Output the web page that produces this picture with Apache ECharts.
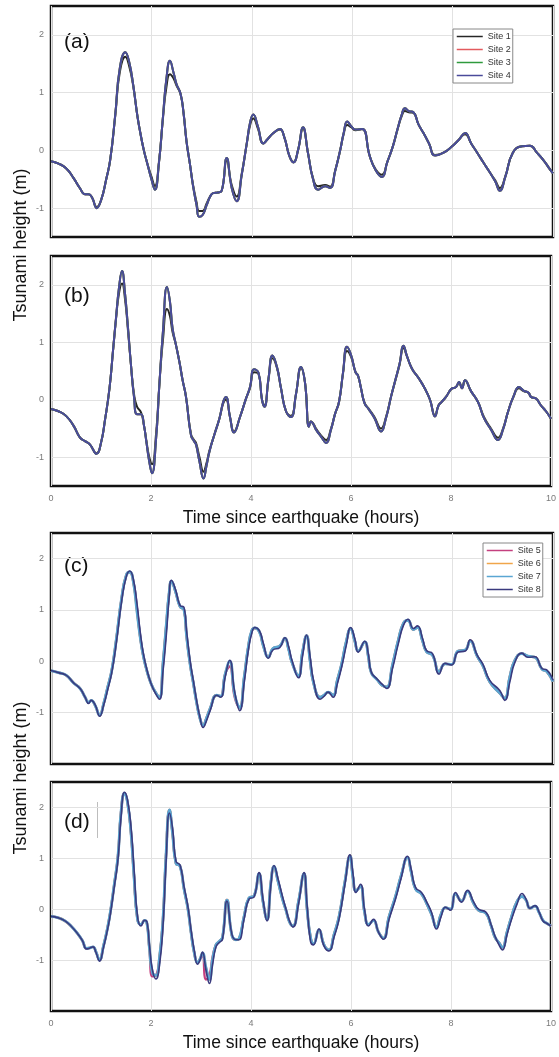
<!DOCTYPE html>
<html><head><meta charset="utf-8">
<script src="https://cdn.jsdelivr.net/npm/echarts@6/dist/echarts.min.js"></script>
<style>html,body{margin:0;padding:0;background:#fff}#chart{width:559px;height:1057px}</style>
</head><body><div id="chart"></div>
<script>
// ---------- data ----------
const timeA = [0,0.15,0.3,0.45,0.58,0.68,0.75,0.82,0.91,1.0,1.1,1.18,1.28,1.37,1.48,1.56,1.64,1.72,1.78,1.85,1.91,2.0,2.07,2.15,2.23,2.3,2.37,2.44,2.5,2.58,2.64,2.7,2.77,2.83,2.9,2.95,3.02,3.1,3.17,3.23,3.32,3.4,3.5,3.6,3.7,3.8,3.9,3.97,4.03,4.12,4.23,4.3,4.43,4.56,4.65,4.75,4.83,4.92,5.02,5.12,5.22,5.32,5.46,5.56,5.66,5.76,5.83,5.9,5.98,6.06,6.2,6.35,6.47,6.59,6.7,6.81,6.9,6.99,7.05,7.13,7.22,7.32,7.42,7.53,7.65,7.82,7.99,8.12,8.25,8.37,8.49,8.62,8.74,8.85,8.94,9.05,9.2,9.38,9.54,9.68,9.82,9.94,10];
const site1A = [-0.19,-0.23,-0.31,-0.48,-0.66,-0.76,-0.76,-0.82,-0.98,-0.85,
-0.5,-0.16,0.6,1.35,1.62,1.45,1.1,0.6,0.3,0.0,
-0.2,-0.45,-0.62,-0.2,0.55,1.1,1.32,1.25,1.12,0.98,
0.65,0.15,-0.25,-0.6,-0.9,-1.05,-1.05,-0.92,-0.8,-0.74,
-0.73,-0.7,-0.18,-0.6,-0.8,-0.4,0.12,0.45,0.55,0.38,
0.12,0.18,0.3,0.36,0.22,-0.1,-0.2,0.0,0.38,-0.05,
-0.48,-0.62,-0.6,-0.63,-0.35,0.0,0.28,0.44,0.4,0.35,
0.37,-0.1,-0.33,-0.42,-0.2,0.07,0.35,0.6,0.68,0.66,
0.65,0.45,0.3,0.12,-0.08,-0.04,0.07,0.18,0.28,0.12,
-0.04,-0.22,-0.38,-0.52,-0.65,-0.45,-0.04,0.07,0.08,-0.04,
-0.18,-0.33,-0.4];
const site2A = [-0.19,-0.23,-0.31,-0.48,-0.66,-0.76,-0.76,-0.82,-1.0,-0.86,
-0.5,-0.16,0.62,1.42,1.70,1.52,1.12,0.6,0.3,0.0,
-0.2,-0.5,-0.68,-0.22,0.58,1.25,1.55,1.35,1.15,0.98,
0.65,0.15,-0.25,-0.62,-0.95,-1.15,-1.12,-0.95,-0.8,-0.74,
-0.73,-0.7,-0.13,-0.65,-0.88,-0.42,0.12,0.5,0.62,0.42,
0.12,0.18,0.3,0.37,0.22,-0.1,-0.21,0.0,0.4,-0.05,
-0.5,-0.68,-0.62,-0.65,-0.36,0.0,0.3,0.5,0.42,0.36,
0.37,-0.1,-0.35,-0.46,-0.2,0.07,0.36,0.63,0.73,0.68,
0.66,0.45,0.3,0.12,-0.09,-0.04,0.07,0.18,0.3,0.12,
-0.04,-0.22,-0.38,-0.54,-0.7,-0.46,-0.04,0.07,0.08,-0.04,
-0.18,-0.33,-0.4];
const site3A = [-0.19,-0.23,-0.31,-0.48,-0.66,-0.76,-0.76,-0.82,-1.0,-0.86,
-0.5,-0.16,0.62,1.42,1.70,1.52,1.12,0.6,0.3,0.0,
-0.2,-0.5,-0.68,-0.22,0.58,1.25,1.55,1.35,1.15,0.98,
0.65,0.15,-0.25,-0.62,-0.95,-1.15,-1.12,-0.95,-0.8,-0.74,
-0.73,-0.7,-0.13,-0.65,-0.88,-0.42,0.12,0.5,0.62,0.42,
0.12,0.18,0.3,0.37,0.22,-0.1,-0.21,0.0,0.4,-0.05,
-0.5,-0.68,-0.62,-0.65,-0.36,0.0,0.3,0.5,0.42,0.36,
0.37,-0.1,-0.35,-0.46,-0.2,0.07,0.36,0.63,0.73,0.68,
0.66,0.45,0.3,0.12,-0.09,-0.04,0.07,0.18,0.3,0.12,
-0.04,-0.22,-0.38,-0.54,-0.7,-0.46,-0.04,0.07,0.08,-0.04,
-0.18,-0.33,-0.4];
const site4A = [-0.19,-0.23,-0.31,-0.48,-0.66,-0.76,-0.76,-0.82,-1.0,-0.86,
-0.5,-0.16,0.62,1.42,1.70,1.52,1.12,0.6,0.3,0.0,
-0.2,-0.5,-0.68,-0.22,0.58,1.25,1.55,1.35,1.15,0.98,
0.65,0.15,-0.25,-0.62,-0.95,-1.15,-1.12,-0.95,-0.8,-0.74,
-0.73,-0.7,-0.13,-0.65,-0.88,-0.42,0.12,0.5,0.62,0.42,
0.12,0.18,0.3,0.37,0.22,-0.1,-0.21,0.0,0.4,-0.05,
-0.5,-0.68,-0.62,-0.65,-0.36,0.0,0.3,0.5,0.42,0.36,
0.37,-0.1,-0.35,-0.46,-0.2,0.07,0.36,0.63,0.73,0.68,
0.66,0.45,0.3,0.12,-0.09,-0.04,0.07,0.18,0.3,0.12,
-0.04,-0.22,-0.38,-0.54,-0.7,-0.46,-0.04,0.07,0.08,-0.04,
-0.18,-0.33,-0.4];

const timeB = [0,0.15,0.3,0.45,0.58,0.68,0.78,0.91,1.0,1.08,1.17,1.24,1.3,1.36,1.42,1.48,1.54,1.6,1.66,1.72,1.8,1.86,1.91,1.96,2.02,2.1,2.17,2.24,2.32,2.38,2.43,2.5,2.57,2.63,2.7,2.8,2.86,2.9,2.97,3.05,3.11,3.17,3.27,3.37,3.45,3.5,3.58,3.66,3.78,3.9,3.98,4.06,4.15,4.22,4.27,4.35,4.43,4.52,4.6,4.7,4.8,4.9,5.0,5.08,5.16,5.2,5.25,5.3,5.4,5.5,5.6,5.68,5.76,5.84,5.92,6.0,6.09,6.14,6.2,6.27,6.35,6.47,6.6,6.7,6.8,6.88,6.97,7.05,7.12,7.22,7.35,7.48,7.58,7.68,7.75,7.81,7.9,8.01,8.1,8.16,8.22,8.28,8.4,8.54,8.66,8.8,8.94,9.04,9.14,9.25,9.36,9.45,9.55,9.6,9.7,9.8,9.9,10];
const site1B = [-0.16,-0.2,-0.28,-0.45,-0.66,-0.72,-0.78,-0.93,-0.75,-0.35,
0.2,0.85,1.4,1.85,2.02,1.75,1.2,0.6,0.1,-0.12,
-0.22,-0.45,-0.72,-0.98,-1.12,-0.6,0.3,1.05,1.58,1.45,
1.18,0.95,0.65,0.35,0.05,-0.6,-0.7,-0.75,-1.0,-1.25,
-1.1,-0.88,-0.6,-0.32,-0.05,0.0,-0.3,-0.55,-0.3,0.02,
0.2,0.48,0.45,0.0,-0.1,0.35,0.72,0.55,0.2,-0.2,
-0.28,0.1,0.55,0.3,-0.45,-0.38,-0.42,-0.5,-0.62,-0.7,
-0.5,-0.25,-0.04,0.45,0.85,0.75,0.48,0.42,0.2,-0.05,
-0.15,-0.3,-0.5,-0.3,0.05,0.31,0.6,0.9,0.75,0.54,
0.38,0.19,0.0,-0.27,-0.1,-0.04,0.05,0.19,0.22,0.3,
0.2,0.33,0.15,-0.04,-0.3,-0.5,-0.66,-0.5,-0.21,0.05,
0.2,0.15,0.12,0.05,0.02,-0.1,-0.2,-0.33];
const site2B = [-0.16,-0.2,-0.28,-0.45,-0.66,-0.72,-0.78,-0.94,-0.75,-0.35,
0.2,0.85,1.42,1.95,2.24,1.85,1.25,0.6,0.05,-0.25,
-0.25,-0.45,-0.75,-1.05,-1.28,-0.7,0.3,1.2,1.96,1.7,
1.25,0.95,0.65,0.35,0.05,-0.62,-0.72,-0.78,-1.08,-1.37,
-1.15,-0.9,-0.6,-0.32,-0.02,0.05,-0.3,-0.57,-0.3,0.02,
0.22,0.53,0.47,0.0,-0.12,0.37,0.77,0.57,0.2,-0.2,
-0.3,0.1,0.57,0.3,-0.47,-0.38,-0.43,-0.52,-0.64,-0.75,
-0.52,-0.25,-0.04,0.47,0.92,0.78,0.48,0.42,0.2,-0.06,
-0.16,-0.32,-0.55,-0.32,0.05,0.32,0.62,0.94,0.76,0.54,
0.38,0.19,0.0,-0.29,-0.1,-0.04,0.05,0.19,0.22,0.31,
0.2,0.34,0.15,-0.04,-0.32,-0.52,-0.7,-0.52,-0.21,0.06,
0.22,0.16,0.12,0.05,0.02,-0.1,-0.2,-0.33];
const site3B = [-0.16,-0.2,-0.28,-0.45,-0.66,-0.72,-0.78,-0.94,-0.75,-0.35,
0.2,0.85,1.42,1.95,2.24,1.85,1.25,0.6,0.05,-0.25,
-0.25,-0.45,-0.75,-1.05,-1.28,-0.7,0.3,1.2,1.96,1.7,
1.25,0.95,0.65,0.35,0.05,-0.62,-0.72,-0.78,-1.08,-1.37,
-1.15,-0.9,-0.6,-0.32,-0.02,0.05,-0.3,-0.57,-0.3,0.02,
0.22,0.53,0.47,0.0,-0.12,0.37,0.77,0.57,0.2,-0.2,
-0.3,0.1,0.57,0.3,-0.47,-0.38,-0.43,-0.52,-0.64,-0.75,
-0.52,-0.25,-0.04,0.47,0.92,0.78,0.48,0.42,0.2,-0.06,
-0.16,-0.32,-0.55,-0.32,0.05,0.32,0.62,0.94,0.76,0.54,
0.38,0.19,0.0,-0.29,-0.1,-0.04,0.05,0.19,0.22,0.31,
0.2,0.34,0.15,-0.04,-0.32,-0.52,-0.7,-0.52,-0.21,0.06,
0.22,0.16,0.12,0.05,0.02,-0.1,-0.2,-0.33];
const site4B = [-0.16,-0.2,-0.28,-0.45,-0.66,-0.72,-0.78,-0.94,-0.75,-0.35,
0.2,0.85,1.42,1.95,2.24,1.85,1.25,0.6,0.05,-0.25,
-0.25,-0.45,-0.75,-1.05,-1.28,-0.7,0.3,1.2,1.96,1.7,
1.25,0.95,0.65,0.35,0.05,-0.62,-0.72,-0.78,-1.08,-1.37,
-1.15,-0.9,-0.6,-0.32,-0.02,0.05,-0.3,-0.57,-0.3,0.02,
0.22,0.53,0.47,0.0,-0.12,0.37,0.77,0.57,0.2,-0.2,
-0.3,0.1,0.57,0.3,-0.47,-0.38,-0.43,-0.52,-0.64,-0.75,
-0.52,-0.25,-0.04,0.47,0.92,0.78,0.48,0.42,0.2,-0.06,
-0.16,-0.32,-0.55,-0.32,0.05,0.32,0.62,0.94,0.76,0.54,
0.38,0.19,0.0,-0.29,-0.1,-0.04,0.05,0.19,0.22,0.31,
0.2,0.34,0.15,-0.04,-0.32,-0.52,-0.7,-0.52,-0.21,0.06,
0.22,0.16,0.12,0.05,0.02,-0.1,-0.2,-0.33];

const timeC = [0,0.15,0.3,0.45,0.58,0.68,0.75,0.8,0.88,0.97,1.05,1.13,1.21,1.3,1.41,1.5,1.57,1.64,1.71,1.78,1.84,1.92,2.0,2.08,2.16,2.23,2.3,2.35,2.4,2.48,2.57,2.65,2.7,2.77,2.84,2.9,2.97,3.03,3.1,3.17,3.3,3.38,3.47,3.56,3.66,3.76,3.85,3.93,4.0,4.06,4.15,4.23,4.33,4.42,4.56,4.66,4.73,4.8,4.93,5.01,5.09,5.16,5.23,5.36,5.44,5.52,5.62,5.7,5.79,5.88,5.97,6.05,6.12,6.25,6.32,6.38,6.5,6.6,6.69,6.8,6.92,7.02,7.11,7.22,7.3,7.4,7.48,7.6,7.73,7.85,7.98,8.11,8.25,8.35,8.49,8.6,8.74,8.94,9.04,9.14,9.24,9.38,9.5,9.64,9.78,9.88,10];
const site5C = [-0.18,-0.22,-0.27,-0.42,-0.53,-0.7,-0.8,-0.76,-0.86,-1.05,
-0.82,-0.5,-0.18,0.42,1.25,1.68,1.74,1.55,1.05,0.45,
0.1,-0.22,-0.45,-0.6,-0.7,-0.05,0.75,1.3,1.56,1.36,
1.07,1.0,0.5,-0.05,-0.45,-0.8,-1.12,-1.25,-1.1,-0.92,
-0.66,-0.68,-0.25,-0.1,-0.7,-0.9,-0.3,0.28,0.6,0.65,
0.58,0.3,0.08,0.25,0.3,0.45,0.25,-0.02,-0.28,0.18,
0.5,0.02,-0.42,-0.7,-0.66,-0.6,-0.66,-0.38,-0.05,0.38,
0.64,0.4,0.2,0.38,0.1,-0.22,-0.36,-0.47,-0.5,-0.08,
0.42,0.74,0.8,0.62,0.66,0.4,0.19,0.12,-0.2,-0.05,
-0.06,0.2,0.22,0.4,0.1,-0.08,-0.4,-0.62,-0.72,-0.3,
0.02,0.15,0.1,0.08,-0.15,-0.2,-0.4];
const site6C = [-0.18,-0.22,-0.27,-0.42,-0.53,-0.7,-0.8,-0.76,-0.86,-1.05,
-0.82,-0.5,-0.18,0.42,1.25,1.68,1.74,1.55,1.0,0.45,
0.1,-0.22,-0.45,-0.6,-0.7,-0.05,0.75,1.3,1.56,1.36,
1.07,1.0,0.5,-0.05,-0.45,-0.8,-1.12,-1.25,-1.1,-0.92,
-0.66,-0.68,-0.25,0.0,-0.65,-0.9,-0.3,0.28,0.6,0.65,
0.58,0.3,0.08,0.25,0.3,0.45,0.25,-0.02,-0.28,0.18,
0.5,0.02,-0.42,-0.7,-0.66,-0.6,-0.66,-0.38,-0.05,0.38,
0.64,0.4,0.2,0.38,0.1,-0.22,-0.36,-0.47,-0.5,-0.08,
0.42,0.74,0.8,0.62,0.66,0.4,0.19,0.12,-0.2,-0.05,
-0.06,0.2,0.22,0.4,0.1,-0.08,-0.4,-0.62,-0.72,-0.3,
0.02,0.15,0.1,0.08,-0.15,-0.2,-0.4];
const site7C = [-0.18,-0.22,-0.27,-0.42,-0.53,-0.7,-0.8,-0.76,-0.86,-1.05,
-0.82,-0.5,-0.18,0.42,1.25,1.68,1.74,1.55,1.0,0.45,
0.1,-0.22,-0.45,-0.6,-0.7,-0.05,0.75,1.3,1.56,1.36,
1.07,1.0,0.5,-0.05,-0.45,-0.8,-1.12,-1.25,-1.1,-0.92,
-0.66,-0.68,-0.25,0.0,-0.65,-0.9,-0.3,0.28,0.6,0.65,
0.58,0.3,0.08,0.25,0.3,0.45,0.25,-0.02,-0.28,0.18,
0.5,0.02,-0.42,-0.7,-0.66,-0.6,-0.66,-0.38,-0.05,0.38,
0.64,0.4,0.2,0.38,0.1,-0.22,-0.36,-0.47,-0.5,-0.08,
0.42,0.74,0.8,0.62,0.66,0.4,0.19,0.12,-0.2,-0.05,
-0.06,0.2,0.22,0.4,0.1,-0.08,-0.4,-0.62,-0.72,-0.3,
0.02,0.15,0.1,0.08,-0.15,-0.2,-0.4];
const site8C = [-0.18,-0.22,-0.27,-0.42,-0.53,-0.7,-0.82,-0.76,-0.85,-1.07,
-0.85,-0.55,-0.22,0.35,1.19,1.65,1.76,1.6,1.15,0.55,
0.15,-0.2,-0.45,-0.62,-0.74,-0.2,0.55,1.2,1.58,1.4,
1.09,1.05,0.6,0.02,-0.4,-0.76,-1.1,-1.29,-1.15,-0.96,
-0.66,-0.7,-0.3,0.02,-0.6,-0.96,-0.4,0.21,0.55,0.66,
0.6,0.35,0.06,0.22,0.27,0.46,0.3,0.02,-0.32,0.1,
0.51,0.1,-0.37,-0.74,-0.68,-0.6,-0.7,-0.45,-0.11,0.3,
0.66,0.45,0.18,0.39,0.15,-0.21,-0.35,-0.45,-0.53,-0.15,
0.35,0.7,0.82,0.64,0.69,0.45,0.21,0.15,-0.25,-0.04,
-0.07,0.18,0.2,0.42,0.12,-0.05,-0.37,-0.57,-0.76,-0.4,
-0.02,0.16,0.08,0.09,-0.14,-0.17,-0.37];

const timeD = [0,0.15,0.28,0.4,0.54,0.63,0.71,0.78,0.84,0.9,0.97,1.05,1.12,1.18,1.26,1.34,1.4,1.47,1.53,1.6,1.66,1.73,1.8,1.87,1.92,1.97,2.03,2.1,2.17,2.24,2.3,2.37,2.43,2.5,2.58,2.66,2.74,2.8,2.87,2.93,2.98,3.03,3.1,3.17,3.23,3.3,3.37,3.43,3.52,3.62,3.7,3.76,3.86,3.96,4.06,4.16,4.24,4.32,4.4,4.46,4.54,4.63,4.7,4.77,4.84,4.95,5.06,5.12,5.19,5.25,5.36,5.46,5.56,5.66,5.76,5.88,5.98,6.04,6.1,6.19,6.27,6.35,6.45,6.55,6.65,6.76,6.89,7.0,7.13,7.2,7.29,7.41,7.51,7.61,7.71,7.8,7.89,7.99,8.09,8.21,8.33,8.45,8.55,8.7,8.8,8.88,8.96,9.03,9.12,9.21,9.32,9.42,9.5,9.58,9.68,9.76,9.84,9.92,10];
const site5D = [-0.14,-0.17,-0.23,-0.33,-0.49,-0.62,-0.77,-0.76,-0.74,-0.84,
-1.0,-0.72,-0.42,-0.1,0.45,1.05,1.9,2.28,2.1,1.5,
0.65,-0.2,-0.3,-0.22,-0.28,-0.8,-1.32,-1.3,-0.95,-0.2,
1.05,1.95,1.5,0.9,0.85,0.4,0.0,-0.45,-0.88,-1.05,
-0.98,-0.9,-1.38,-1.3,-0.95,-0.7,-0.63,-0.55,0.18,-0.52,
-0.6,-0.58,-0.15,0.22,0.26,0.7,0.15,-0.2,0.55,0.84,
0.55,0.2,-0.02,-0.25,-0.33,0.15,0.7,0.02,-0.55,-0.68,
-0.4,-0.7,-0.8,-0.5,-0.15,0.55,1.05,0.62,0.36,0.45,
-0.05,-0.3,-0.22,-0.45,-0.57,-0.15,0.25,0.65,1.02,0.75,
0.4,0.3,0.12,-0.1,-0.35,-0.1,0.03,0.0,0.3,0.16,
0.35,0.12,-0.02,-0.08,-0.32,-0.55,-0.66,-0.75,-0.45,-0.15,
0.15,0.25,0.18,0.02,0.06,-0.06,-0.22,-0.28,-0.33];
const site6D = [-0.14,-0.17,-0.23,-0.33,-0.49,-0.62,-0.77,-0.76,-0.74,-0.84,
-1.0,-0.72,-0.42,-0.1,0.45,1.05,1.9,2.28,2.1,1.5,
0.65,-0.2,-0.3,-0.22,-0.28,-0.78,-1.25,-1.3,-0.95,-0.2,
1.05,1.95,1.5,0.9,0.85,0.4,0.0,-0.45,-0.88,-1.05,
-0.98,-0.86,-1.15,-1.38,-1.0,-0.7,-0.63,-0.55,0.18,-0.52,
-0.6,-0.58,-0.15,0.22,0.26,0.7,0.15,-0.2,0.55,0.84,
0.55,0.2,-0.02,-0.25,-0.33,0.15,0.7,0.02,-0.55,-0.68,
-0.4,-0.7,-0.8,-0.5,-0.15,0.55,1.05,0.62,0.36,0.45,
-0.05,-0.3,-0.22,-0.45,-0.57,-0.15,0.25,0.65,1.02,0.75,
0.4,0.3,0.12,-0.1,-0.35,-0.1,0.03,0.0,0.3,0.16,
0.35,0.12,-0.02,-0.08,-0.32,-0.55,-0.66,-0.75,-0.45,-0.15,
0.15,0.25,0.18,0.02,0.06,-0.06,-0.22,-0.28,-0.33];
const site7D = [-0.14,-0.17,-0.23,-0.33,-0.49,-0.62,-0.77,-0.76,-0.74,-0.84,
-1.0,-0.72,-0.42,-0.1,0.45,1.05,1.9,2.28,2.1,1.5,
0.65,-0.2,-0.3,-0.22,-0.28,-0.78,-1.25,-1.3,-0.95,-0.2,
1.05,1.95,1.5,0.9,0.85,0.4,0.0,-0.45,-0.88,-1.05,
-0.98,-0.86,-1.15,-1.38,-1.0,-0.7,-0.63,-0.55,0.18,-0.52,
-0.6,-0.58,-0.15,0.22,0.26,0.7,0.15,-0.2,0.55,0.84,
0.55,0.2,-0.02,-0.25,-0.33,0.15,0.7,0.02,-0.55,-0.68,
-0.4,-0.7,-0.8,-0.5,-0.15,0.55,1.05,0.62,0.36,0.45,
-0.05,-0.3,-0.22,-0.45,-0.57,-0.15,0.25,0.65,1.02,0.75,
0.4,0.3,0.12,-0.1,-0.35,-0.1,0.03,0.0,0.3,0.16,
0.35,0.12,-0.02,-0.08,-0.32,-0.55,-0.66,-0.75,-0.45,-0.15,
0.15,0.25,0.18,0.02,0.06,-0.06,-0.22,-0.28,-0.33];
const site8D = [-0.14,-0.17,-0.23,-0.33,-0.49,-0.62,-0.78,-0.76,-0.74,-0.85,
-1.02,-0.75,-0.45,-0.14,0.4,0.98,1.8,2.3,2.15,1.62,
0.8,-0.14,-0.33,-0.22,-0.25,-0.72,-1.2,-1.37,-1.1,-0.33,
0.9,1.89,1.6,0.94,0.87,0.45,0.04,-0.4,-0.84,-1.08,
-1.0,-0.84,-1.2,-1.46,-1.1,-0.74,-0.65,-0.59,0.16,-0.5,
-0.6,-0.6,-0.2,0.2,0.24,0.72,0.2,-0.23,0.5,0.86,
0.6,0.25,0.0,-0.23,-0.35,0.1,0.72,0.1,-0.63,-0.7,
-0.39,-0.72,-0.82,-0.55,-0.2,0.5,1.07,0.7,0.33,0.49,
0.0,-0.33,-0.2,-0.45,-0.59,-0.2,0.2,0.6,1.04,0.8,
0.43,0.33,0.15,-0.06,-0.39,-0.15,0.04,-0.02,0.33,0.14,
0.37,0.15,0.0,-0.06,-0.3,-0.53,-0.7,-0.8,-0.5,-0.2,
0.1,0.31,0.2,0.02,0.07,-0.05,-0.23,-0.28,-0.33];

const xTickValues = [0, 2, 4, 6, 8, 10];
const yTickValues = [-1, 0, 1, 2];
const yMinByPanel = [-1.5, -1.5, -2, -2];
const yMaxByPanel = [2.5, 2.5, 2.5, 2.5];
const panelLabels = ['(a)', '(b)', '(c)', '(d)'];
const legendTop = ['Site 1', 'Site 2', 'Site 3', 'Site 4'];
const legendBottom = ['Site 5', 'Site 6', 'Site 7', 'Site 8'];
const xAxisTitle = 'Time since earthquake (hours)';
const yAxisTitle = 'Tsunami height (m)';

// ---------- styling / layout ----------
const FONT = '"Liberation Sans", Arial, sans-serif';
const siteColors = {
  'Site 1': '#262626', 'Site 2': '#e35a5e', 'Site 3': '#2f9a3c', 'Site 4': '#4a4a9a',
  'Site 5': '#c4407f', 'Site 6': '#f0a54a', 'Site 7': '#5aa6d3', 'Site 8': '#3a3a7e'
};
const siteWidths = {
  'Site 1': 2, 'Site 2': 2, 'Site 3': 2, 'Site 4': 2,
  'Site 5': 2.4, 'Site 6': 2.4, 'Site 7': 2.8, 'Site 8': 1.6
};
const grids = [
  {left: 51, right: 6, top: 6, height: 231},
  {left: 51, right: 6, top: 256, height: 230},
  {left: 51, right: 6, top: 533, height: 231},
  {left: 51, right: 6, top: 782, height: 229}
];
const labelY = [42, 296, 566, 822];

const panels = [
  {time: timeA, sites: [['Site 1', site1A], ['Site 2', site2A], ['Site 3', site3A], ['Site 4', site4A]]},
  {time: timeB, sites: [['Site 1', site1B], ['Site 2', site2B], ['Site 3', site3B], ['Site 4', site4B]]},
  {time: timeC, sites: [['Site 5', site5C], ['Site 6', site6C], ['Site 7', site7C], ['Site 8', site8C]]},
  {time: timeD, sites: [['Site 5', site5D], ['Site 6', site6D], ['Site 7', site7D], ['Site 8', site8D]]}
];

const series = [];
panels.forEach((p, i) => {
  p.sites.forEach(([name, vals]) => {
    series.push({
      name, type: 'line', xAxisIndex: i, yAxisIndex: i,
      data: p.time.map((t, k) => [t, vals[k]]),
      symbol: 'none', smooth: 0.5, animation: false,
      lineStyle: {width: siteWidths[name], color: siteColors[name]},
      itemStyle: {color: siteColors[name]}
    });
  });
});

const chart = echarts.init(document.getElementById('chart'), null, {renderer: 'canvas'});
const legendBase = {
  orient: 'vertical', itemWidth: 26, itemHeight: 9, itemGap: 4,
  padding: [3, 2, 3, 3], borderColor: '#888', borderWidth: 1, backgroundColor: '#fff',
  textStyle: {fontSize: 9, color: '#333', fontFamily: FONT}, selectedMode: false,
  itemStyle: {opacity: 0}, lineStyle: {width: 1.5}
};
chart.setOption({
  animation: false,
  backgroundColor: '#fff',
  grid: grids.map(g => Object.assign({show: true, borderColor: '#111', borderWidth: 2.5, backgroundColor: '#fff'}, g)),
  xAxis: grids.map((g, i) => ({
    gridIndex: i, type: 'value', min: 0, max: 10, interval: 2,
    axisLine: {show: false}, axisTick: {show: false},
    axisLabel: {show: i === 1 || i === 3, fontSize: 9, color: '#7a7a7a', margin: 8, fontFamily: FONT, customValues: xTickValues},
    splitLine: {show: true, lineStyle: {color: '#e2e2e2', width: 1}},
    name: (i === 1 || i === 3) ? xAxisTitle : '',
    nameLocation: 'middle', nameGap: 23,
    nameTextStyle: {fontSize: 17.5, color: '#111', fontFamily: FONT}
  })),
  yAxis: grids.map((g, i) => ({
    gridIndex: i, type: 'value', min: yMinByPanel[i], max: yMaxByPanel[i], splitNumber: 4,
    axisLine: {show: false}, axisTick: {show: false},
    axisLabel: {fontSize: 9, color: '#7a7a7a', margin: 7, fontFamily: FONT, customValues: yTickValues},
    splitLine: {show: true, showMinLine: false, showMaxLine: false, lineStyle: {color: '#e2e2e2', width: 1}}
  })),
  legend: [
    Object.assign({data: legendTop, left: 453, top: 29}, legendBase),
    Object.assign({data: legendBottom, left: 483, top: 543}, legendBase)
  ],
  graphic: [
    {type: 'text', x: 21, y: 245, rotation: Math.PI / 2,
      style: {text: yAxisTitle, font: '18px ' + FONT, fill: '#111', align: 'center', verticalAlign: 'middle'}},
    {type: 'text', x: 21, y: 778, rotation: Math.PI / 2,
      style: {text: yAxisTitle, font: '18px ' + FONT, fill: '#111', align: 'center', verticalAlign: 'middle'}},
    ...panelLabels.map((t, i) => ({type: 'text', x: 64, y: labelY[i],
      style: {text: t, font: '21px ' + FONT, fill: '#111', align: 'left', verticalAlign: 'middle'}})),
    {type: 'line', shape: {x1: 97.5, y1: 802, x2: 97.5, y2: 838}, style: {stroke: '#bdbdbd', lineWidth: 1}}
  ],
  series
});
</script></body></html>
